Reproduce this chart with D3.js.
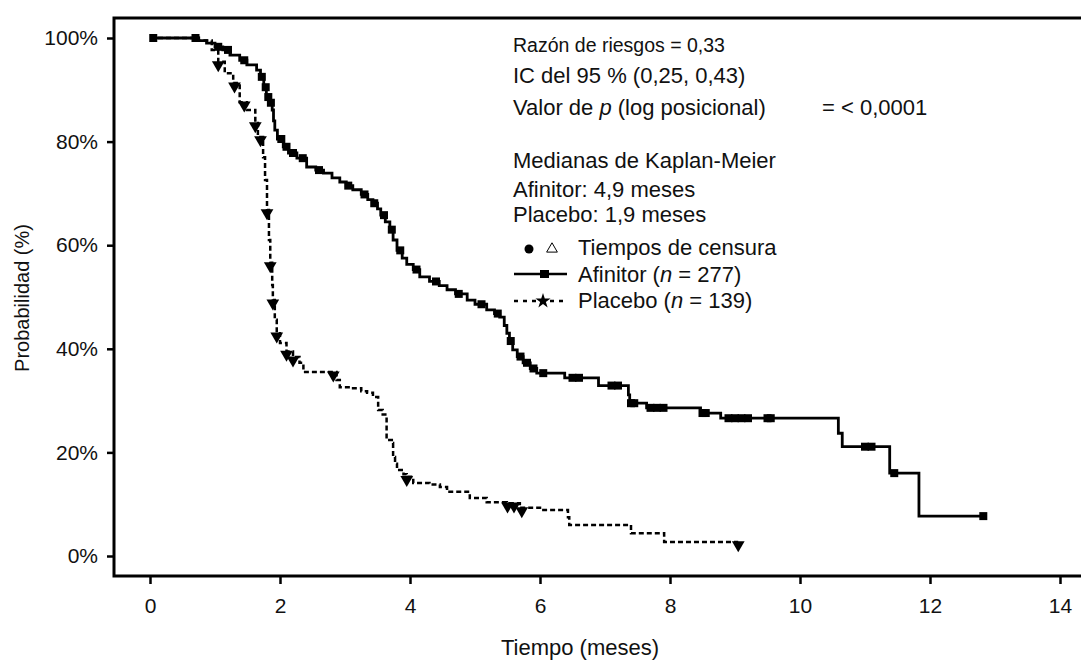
<!DOCTYPE html>
<html>
<head>
<meta charset="utf-8">
<script src="https://cdn.jsdelivr.net/npm/d3@7"></script>
<style>
  body { margin: 0; background: #fff; }
  text { font-family: "Liberation Sans", Arial, sans-serif; fill: #111; }
</style>
</head>
<body>
<svg></svg>
<script>
const width = 1081
const height = 662

// axis ticks
const xTicks = [0, 2, 4, 6, 8, 10, 12, 14]
const yTicks = [0, 20, 40, 60, 80, 100]

// Kaplan-Meier steps (months, % survival)
const afinitorTime = [0, 0.75, 0.87, 1.0, 1.12, 1.23, 1.38, 1.49, 1.64, 1.70, 1.75, 1.79, 1.84, 1.88, 1.90, 1.92, 1.96, 2.05, 2.13, 2.26, 2.41, 2.55, 2.67, 2.8, 2.92, 3.02, 3.12, 3.25, 3.35, 3.43, 3.5, 3.55, 3.62, 3.69, 3.74, 3.8, 3.88, 3.95, 4.05, 4.15, 4.3, 4.45, 4.57, 4.7, 4.88, 5.0, 5.18, 5.3, 5.38, 5.45, 5.49, 5.53, 5.58, 5.65, 5.74, 5.85, 5.95, 6.38, 6.9, 7.36, 7.38, 7.64, 8.47, 8.78, 10.59, 10.65, 11.38, 11.83, 12.82]
const afinitorSurv = [100, 99.5, 99, 98.3, 97.7, 96.7, 95.7, 94.8, 93.8, 92.5, 90.5, 88.6, 87.5, 86.1, 84, 82.2, 80.5, 79, 77.8, 76.8, 75.1, 74.5, 73.9, 73, 72.2, 71.5, 70.7, 69.8, 68.8, 68.1, 67, 65.8, 64.5, 63, 61, 59, 57.5, 56.3, 55.3, 53.9, 53, 52.2, 51.4, 50.6, 49.4, 48.6, 47.5, 46.8, 46.1, 44.5, 43, 41.5, 39.8, 38.5, 37.3, 36.2, 35.3, 34.4, 32.9, 31.1, 29.5, 28.6, 27.6, 26.6, 23.7, 21.1, 16, 7.7, 7.7]

const placeboTime = [0, 0.75, 0.95, 1.05, 1.15, 1.28, 1.38, 1.49, 1.62, 1.66, 1.74, 1.77, 1.80, 1.83, 1.85, 1.88, 1.89, 1.92, 1.95, 2.0, 2.1, 2.2, 2.3, 2.36, 2.87, 2.92, 3.08, 3.25, 3.34, 3.43, 3.51, 3.58, 3.62, 3.64, 3.72, 3.74, 3.77, 3.8, 3.9, 3.95, 4.05, 4.3, 4.46, 4.57, 4.92, 5.18, 5.49, 5.69, 6.0, 6.43, 6.45, 7.4, 7.91, 9.05]
const placeboSurv = [100, 99.5, 97.7, 95.4, 93.2, 91.3, 87.6, 86.1, 83.6, 80.9, 77, 72.6, 66.8, 61, 56.6, 52.3, 49.4, 45.6, 43, 41.1, 39.5, 38.4, 37.3, 35.5, 34, 32.6, 32.4, 31.8, 31.5, 30.7, 28.2, 27.3, 26.8, 22.4, 21.8, 19.1, 17.8, 16.6, 15.8, 15.3, 14.1, 13.8, 13.3, 12.4, 11.2, 10.4, 10.2, 9.3, 8.9, 7.5, 6.0, 4.4, 2.7, 2.7]

// censoring times
const afinitorCensor = [0.05, 0.7, 1.05, 1.2, 1.45, 1.72, 1.78, 1.82, 1.86, 2.02, 2.1, 2.2, 2.35, 2.6, 3.05, 3.3, 3.45, 3.6, 3.72, 3.85, 4.1, 4.4, 4.75, 5.1, 5.35, 5.55, 5.7, 5.8, 5.9, 6.05, 6.5, 6.6, 7.1, 7.2, 7.4, 7.45, 7.7, 7.8, 7.9, 8.5, 8.55, 8.9, 9.0, 9.1, 9.2, 9.5, 9.55, 11.0, 11.1, 11.45, 12.82]
const placeboCensor = [1.05, 1.3, 1.45, 1.62, 1.7, 1.8, 1.85, 1.89, 1.95, 2.1, 2.2, 2.82, 3.95, 5.5, 5.6, 5.72, 9.05]

const svg = d3.select("svg")
    .attr("width", width)
    .attr("height", height)

const x = d3.scaleLinear().domain([0, 14]).range([150, 1060])
const y = d3.scaleLinear().domain([0, 100]).range([556, 38])

const axisLeftX = 114
const axisBottomY = 576
const frameTop = 18

// frame lines
svg.append("path")
    .attr("d", `M${width + 2},${frameTop}H${axisLeftX}V${axisBottomY}H${width + 2}`)
    .attr("fill", "none")
    .attr("stroke", "#000")
    .attr("stroke-width", 3)

// Y ticks
const yAxis = svg.append("g")
    .attr("transform", `translate(${axisLeftX},0)`)
    .call(d3.axisLeft(y).tickValues(yTicks).tickSize(7).tickPadding(9).tickFormat(d => d + "%"))
yAxis.select(".domain").remove()
yAxis.selectAll("line").attr("stroke-width", 2.5)
yAxis.selectAll("text").attr("font-size", "21px")

// X ticks
const xAxis = svg.append("g")
    .attr("transform", `translate(0,${axisBottomY})`)
    .call(d3.axisBottom(x).tickValues(xTicks).tickSize(8).tickPadding(14))
xAxis.select(".domain").remove()
xAxis.selectAll("line").attr("stroke-width", 2.5)
xAxis.selectAll("text").attr("font-size", "21px")

// axis titles
svg.append("text")
    .attr("x", 580)
    .attr("y", 655)
    .attr("text-anchor", "middle")
    .attr("font-size", "22px")
    .text("Tiempo (meses)")

svg.append("text")
    .attr("transform", "translate(29,298) rotate(-90)")
    .attr("text-anchor", "middle")
    .attr("font-size", "20px")
    .text("Probabilidad (%)")

// curves
const stepLine = d3.line()
    .x(d => x(d[0]))
    .y(d => y(d[1]))
    .curve(d3.curveStepAfter)

const survAt = (times, surv, t) => surv[Math.max(0, d3.bisectRight(times, t) - 1)]

svg.append("path")
    .datum(d3.zip(afinitorTime, afinitorSurv))
    .attr("d", stepLine)
    .attr("fill", "none")
    .attr("stroke", "#000")
    .attr("stroke-width", 2.8)

svg.append("path")
    .datum(d3.zip(placeboTime, placeboSurv))
    .attr("d", stepLine)
    .attr("fill", "none")
    .attr("stroke", "#000")
    .attr("stroke-width", 2.5)
    .attr("stroke-dasharray", "5,3")

// censor marks
svg.append("g")
    .selectAll("rect")
    .data(afinitorCensor)
    .join("rect")
    .attr("x", d => x(d) - 4)
    .attr("y", d => y(survAt(afinitorTime, afinitorSurv, d)) - 4)
    .attr("width", 8)
    .attr("height", 8)
    .attr("fill", "#000")

const tri = d3.symbol().type(d3.symbolTriangle).size(70)
svg.append("g")
    .selectAll("path")
    .data(placeboCensor)
    .join("path")
    .attr("d", tri)
    .attr("transform", d => `translate(${x(d)},${y(survAt(placeboTime, placeboSurv, d)) + 3}) rotate(180)`)
    .attr("fill", "#000")

// annotation text
const note = svg.append("g").attr("font-size", "22px")
note.append("text").attr("x", 513).attr("y", 52).attr("font-size", "19.5px").text("Razón de riesgos = 0,33")
note.append("text").attr("x", 513).attr("y", 83).text("IC del 95 % (0,25, 0,43)")
const pLine = note.append("text").attr("x", 513).attr("y", 115)
pLine.append("tspan").text("Valor de ")
pLine.append("tspan").attr("font-style", "italic").text("p")
pLine.append("tspan").text(" (log posicional)")
note.append("text").attr("x", 822).attr("y", 115).text("= < 0,0001")
note.append("text").attr("x", 513).attr("y", 168).text("Medianas de Kaplan-Meier")
note.append("text").attr("x", 513).attr("y", 197).text("Afinitor: 4,9 meses")
note.append("text").attr("x", 513).attr("y", 222).text("Placebo: 1,9 meses")

// legend
const legend = svg.append("g")
legend.append("circle").attr("cx", 529).attr("cy", 249).attr("r", 4.5).attr("fill", "#000")
legend.append("path")
    .attr("d", d3.symbol().type(d3.symbolTriangle).size(50))
    .attr("transform", "translate(552,249)")
    .attr("fill", "none")
    .attr("stroke", "#000")
    .attr("stroke-width", 1)

legend.append("line").attr("x1", 514).attr("x2", 567).attr("y1", 274).attr("y2", 274)
    .attr("stroke", "#000").attr("stroke-width", 2.5)
legend.append("rect").attr("x", 540).attr("y", 270).attr("width", 9).attr("height", 8).attr("fill", "#000")

legend.append("line").attr("x1", 514).attr("x2", 567).attr("y1", 301).attr("y2", 301)
    .attr("stroke", "#000").attr("stroke-width", 2.5).attr("stroke-dasharray", "4,5")
legend.append("path")
    .attr("d", d3.symbol().type(d3.symbolStar).size(70))
    .attr("transform", "translate(543,301)")
    .attr("fill", "#000")

const legendRows = [
    { y: 255, label: "Tiempos de censura", n: null },
    { y: 282, label: "Afinitor", n: "277" },
    { y: 308, label: "Placebo", n: "139" }
]
legendRows.forEach(r => {
    const t = legend.append("text").attr("x", 578).attr("y", r.y).attr("font-size", "22px")
    if (r.n === null) {
        t.text(r.label)
    } else {
        t.append("tspan").text(r.label + " (")
        t.append("tspan").attr("font-style", "italic").text("n")
        t.append("tspan").text(" = " + r.n + ")")
    }
})
</script>
</body>
</html>
